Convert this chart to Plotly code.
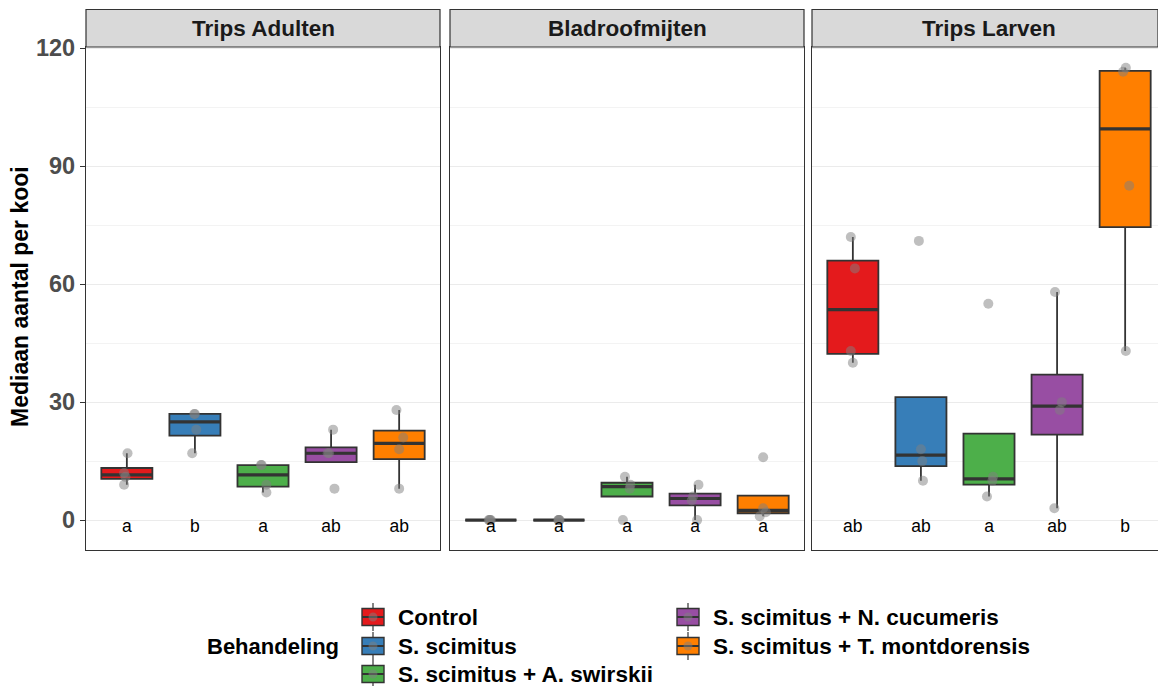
import numpy as np
import plotly.graph_objects as go

# ---------------------------------------------------------------- data
treatments = ["Control", "S. scimitus", "S. scimitus + A. swirskii",
              "S. scimitus + N. cucumeris", "S. scimitus + T. montdorensis"]
colors = ["#E41A1C", "#377EB8", "#4DAF4A", "#984EA3", "#FF7F00"]
panels = ["Trips Adulten", "Bladroofmijten", "Trips Larven"]

# median count per cage (4 cages per treatment)
trips_adulten = [[9, 11, 12, 17], [17, 23, 27, 27], [7, 9, 14, 14],
                 [8, 17, 17, 23], [8, 18, 21, 28]]
bladroofmijten = [[0, 0, 0, 0], [0, 0, 0, 0], [0, 8, 9, 11],
                  [0, 5, 6, 9], [1, 2, 3, 16]]
trips_larven = [[40, 43, 64, 72], [10, 15, 18, 71], [6, 10, 11, 55],
                [3, 28, 30, 58], [43, 85, 114, 115]]

# compact letter display per treatment
letters_ta = ["a", "b", "a", "ab", "ab"]
letters_bm = ["a", "a", "a", "a", "a"]
letters_tl = ["ab", "ab", "a", "ab", "b"]

# horizontal jitter of the cage points (category units)
jitter_ta = [[-0.04, -0.02, -0.04, 0.01], [-0.04, 0.02, 0.0, -0.01],
             [0.05, 0.05, -0.03, -0.02], [0.05, -0.05, -0.03, 0.03],
             [0.0, 0.0, 0.06, -0.04]]
jitter_bm = [[-0.03, -0.01, 0.0, -0.02], [0.0, -0.01, 0.01, 0.0],
             [-0.06, 0.04, 0.05, -0.03], [0.03, -0.05, -0.03, 0.05],
             [-0.05, 0.04, 0.0, 0.0]]
jitter_tl = [[0.0, -0.03, 0.03, -0.03], [0.03, 0.02, 0.0, -0.03],
             [-0.03, 0.05, 0.06, -0.01], [-0.04, 0.04, 0.07, -0.03],
             [0.01, 0.06, -0.03, 0.01]]

panel_values = [trips_adulten, bladroofmijten, trips_larven]
panel_letters = [letters_ta, letters_bm, letters_tl]
panel_jitter = [jitter_ta, jitter_bm, jitter_tl]

# ---------------------------------------------------------------- layout constants
W, H = 1158, 686
panel_px = [(86, 440), (450, 804), (812, 1158)]
panel_full_w = 354
unit_px = (440 - 86) / 5.2          # pixels per category unit
plot_top, plot_bottom = 47, 550
strip_top = 9.5
y_range = [-7.6, 120.3]
box_width = 0.75
FONT = "Liberation Sans, Arial, Helvetica, sans-serif"
DARK = "#333333"
POINT = "rgba(127,127,127,0.5)"

# legend keys laid out column-wise: (key left px, row centre px)
legend_pos = [(362, 617), (362, 646), (362, 674), (677, 617), (677, 646)]
key_w, key_h, key_whisker = 22, 17, 14
key_text_gap = 12


def box_stats(vals):
    v = np.asarray(vals, dtype=float)
    q1, med, q3 = np.percentile(v, [25, 50, 75])
    iqr = q3 - q1
    lo = v[v >= q1 - 1.5 * iqr].min()
    hi = v[v <= q3 + 1.5 * iqr].max()
    return q1, med, q3, lo, hi


def px_x(x):
    return x / W


def px_y(y):
    return (H - y) / H


fig = go.Figure()

for p, (name, values, letters, jit) in enumerate(
        zip(panels, panel_values, panel_letters, panel_jitter)):
    xa = "x" if p == 0 else f"x{p + 1}"
    ya = "y" if p == 0 else f"y{p + 1}"
    for k, vals in enumerate(values):
        pos = k + 1
        q1, med, q3, lo, hi = box_stats(vals)
        fig.add_trace(go.Box(
            x=[pos], q1=[q1], median=[med], q3=[q3],
            lowerfence=[lo], upperfence=[hi],
            width=box_width, whiskerwidth=0, boxpoints=False,
            fillcolor=colors[k], line=dict(color=DARK, width=1.8),
            name=treatments[k], showlegend=False,
            hoverinfo="skip", xaxis=xa, yaxis=ya))
        # thicker median bar
        fig.add_trace(go.Scatter(
            x=[pos - box_width / 2, pos + box_width / 2], y=[med, med],
            mode="lines", line=dict(color=DARK, width=3.2),
            showlegend=False, hoverinfo="skip", xaxis=xa, yaxis=ya))
    for k, vals in enumerate(values):
        pos = k + 1
        fig.add_trace(go.Scatter(
            x=[pos + j for j in jit[k]], y=vals, mode="markers",
            marker=dict(color=POINT, size=10, line=dict(width=0)),
            showlegend=False, hoverinfo="skip", xaxis=xa, yaxis=ya))
    fig.add_trace(go.Scatter(
        x=list(range(1, 6)), y=[-2] * 5, mode="text", text=letters,
        textfont=dict(family=FONT, size=17.5, color="#000000"),
        showlegend=False, hoverinfo="skip", xaxis=xa, yaxis=ya))

# ---------------------------------------------------------------- axes and strips
y_dom = [px_y(plot_bottom), px_y(plot_top)]
for p, (x0, x1) in enumerate(panel_px):
    suffix = "" if p == 0 else str(p + 1)
    x_hi = 0.4 + (x1 - x0) / unit_px
    fig.update_layout(**{
        f"xaxis{suffix}": dict(
            domain=[px_x(x0), px_x(x1)], range=[0.4, x_hi], showgrid=False,
            zeroline=False, showticklabels=False, ticks="",
            showline=True, mirror=True, linecolor=DARK, linewidth=1.2,
            anchor=f"y{suffix}"),
        f"yaxis{suffix}": dict(
            domain=y_dom, range=y_range, anchor=f"x{suffix}",
            tickvals=[0, 30, 60, 90, 120], showgrid=True,
            gridcolor="#EBEBEB", gridwidth=1.4, zeroline=False,
            minor=dict(tickvals=[15, 45, 75, 105], showgrid=True,
                       gridcolor="#F3F3F3", gridwidth=1, ticks=""),
            showline=True, mirror=True, linecolor=DARK, linewidth=1.2,
            showticklabels=(p == 0), ticks="outside" if p == 0 else "",
            ticklen=5, tickcolor=DARK, tickwidth=1.2, automargin=False,
            tickfont=dict(family=FONT, size=23.5, color="#4D4D4D", weight="bold")),
    })
    fig.add_shape(type="rect", xref="paper", yref="paper",
                  x0=px_x(x0), x1=px_x(x1), y0=px_y(plot_top), y1=px_y(strip_top),
                  fillcolor="#D9D9D9", line=dict(color=DARK, width=1.2), layer="above")
    fig.add_annotation(x=px_x(x0 + panel_full_w / 2), y=px_y((strip_top + plot_top) / 2),
                       xref="paper", yref="paper", text=panels[p], showarrow=False,
                       font=dict(family=FONT, size=22.5, color="#1A1A1A", weight="bold"),
                       xanchor="center", yanchor="middle")

# y-axis title
fig.add_annotation(x=px_x(20), y=px_y(297), xref="paper", yref="paper",
                   text="Mediaan aantal per kooi", textangle=-90, showarrow=False,
                   font=dict(family=FONT, size=23, color="#000000", weight="bold"),
                   xanchor="center", yanchor="middle")

# ---------------------------------------------------------------- legend (boxplot keys)
fig.add_annotation(x=px_x(341), y=px_y(646), xref="paper", yref="paper",
                   text="Behandeling", showarrow=False,
                   font=dict(family=FONT, size=22, color="#000000", weight="bold"),
                   xanchor="right", yanchor="middle")

for k, (lx, ly) in enumerate(legend_pos):
    cx = lx + key_w / 2
    fig.add_shape(type="line", xref="paper", yref="paper",
                  x0=px_x(cx), x1=px_x(cx),
                  y0=px_y(ly - key_whisker), y1=px_y(ly + key_whisker),
                  line=dict(color=DARK, width=1.2))
    fig.add_shape(type="rect", xref="paper", yref="paper",
                  x0=px_x(lx), x1=px_x(lx + key_w),
                  y0=px_y(ly + key_h / 2), y1=px_y(ly - key_h / 2),
                  fillcolor=colors[k], line=dict(color=DARK, width=1.4))
    fig.add_shape(type="line", xref="paper", yref="paper",
                  x0=px_x(lx), x1=px_x(lx + key_w), y0=px_y(ly), y1=px_y(ly),
                  line=dict(color=DARK, width=2))
    fig.add_shape(type="circle", xref="paper", yref="paper",
                  x0=px_x(cx - 4.5), x1=px_x(cx + 4.5),
                  y0=px_y(ly + 4.5), y1=px_y(ly - 4.5),
                  fillcolor=POINT, line=dict(width=0))
    fig.add_annotation(x=px_x(lx + key_w + key_text_gap), y=px_y(ly),
                       xref="paper", yref="paper", text=treatments[k],
                       showarrow=False, xanchor="left", yanchor="middle",
                       font=dict(family=FONT, size=22.5, color="#000000", weight="bold"))

fig.update_layout(
    width=W, height=H,
    margin=dict(l=0, r=0, t=0, b=0, autoexpand=False),
    paper_bgcolor="white", plot_bgcolor="white",
    showlegend=False,
)

fig.write_html("out.html")
